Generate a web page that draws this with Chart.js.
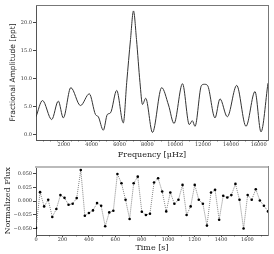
<!DOCTYPE html>
<html>
<head>
<meta charset="utf-8">
<script src="https://cdn.jsdelivr.net/npm/chart.js@4.4.1/dist/chart.umd.min.js"></script>
<style>
  body { margin: 0; background: #fff; }
  canvas { position: absolute; left: 0; }
  #top { top: 0; }
  #bottom { top: 160px; }
</style>
</head>
<body>
<canvas id="top" width="274" height="160"></canvas>
<canvas id="bottom" width="274" height="94"></canvas>
<script>
// periodogram (uHz, ppt)
var freq = [0, 467, 1128, 1602, 1961, 2500, 3197, 3829, 4274, 4476, 4835, 5122, 5352, 5797,
  6272, 6516, 6789, 7004, 7220, 7471, 7651, 7881, 8369, 9030, 9519, 9914, 10525, 11013,
  11229, 11423, 11889, 12105, 12321, 12859, 13218, 13743, 14418, 15086, 15733, 16164, 16667];
var amp = [3.2, 6.1, 2.7, 6.0, 3.0, 8.4, 5.2, 7.3, 3.6, 3.2, 0.8, 3.6, 3.9, 7.9,
  2.1, 9.3, 17.0, 22.1, 17.0, 9.3, 5.4, 6.5, 0.4, 8.4, 5.3, 2.0, 9.1, 1.8,
  2.5, 1.5, 8.8, 9.0, 8.8, 3.0, 6.4, 3.2, 8.8, 1.5, 7.7, 0.5, 9.2];

// light curve (s, normalized flux)
var time = [0, 30.8, 61.6, 92.4, 123.2, 154, 184.8, 215.6, 246.4, 277.2, 308, 338.8, 369.6,
  400.4, 431.2, 462, 492.8, 523.6, 554.4, 585.2, 616, 646.8, 677.6, 708.4, 739.2, 770,
  800.8, 831.6, 862.4, 893.2, 924, 954.8, 985.6, 1016.4, 1047.2, 1078, 1108.8, 1139.6,
  1170.4, 1201.2, 1232, 1262.8, 1293.6, 1324.4, 1355.2, 1386, 1416.8, 1447.6, 1478.4,
  1509.2, 1540, 1570.8, 1601.6, 1632.4, 1663.2, 1694, 1724.8, 1755.6];
var flux = [-0.049, 0.0164, -0.0097, 0.0024, -0.029, -0.0145, 0.011, 0.006, -0.0067, -0.0048,
  0.0055, 0.057, -0.0267, -0.0218, -0.017, -0.0036, -0.0085, -0.046, -0.0206, -0.0176,
  0.0497, 0.0327, 0.0024, -0.0327, 0.0327, 0.0448, -0.0194, -0.0255, -0.023, 0.034,
  0.0418, 0.0176, -0.0188, 0.0158, -0.0048, 0.0024, 0.0297, -0.0255, -0.0097, 0.0297,
  0.0024, -0.0048, -0.0448, 0.0158, 0.0206, -0.034, 0.0097, 0.0067, 0.011, 0.0315,
  0.0024, -0.050, 0.011, 0.0024, 0.0218, 0.0012, -0.0085, -0.0188];

var freqTicks = [2000, 4000, 6000, 8000, 10000, 12000, 14000, 16000];
var ampTicks = [0, 5, 10, 15, 20];
var timeTicks = [0, 200, 400, 600, 800, 1000, 1200, 1400, 1600];
var fluxTicks = [-0.05, -0.025, 0, 0.025, 0.05];

var freqMinor = [];
for (var f = 500; f < 16667; f += 500) if (f % 2000) freqMinor.push(f);
var timeMinor = [];
for (var t = 100; t < 1755; t += 200) timeMinor.push(t);

var tickFont = { family: 'DejaVu Serif', size: 5 };
var serif = { family: 'DejaVu Serif', size: 8 };

// short minor ticks under the x axis
var minorTicks = {
  id: 'minorTicks',
  afterDraw: function (chart, args, opts) {
    var s = chart.scales.x, ctx = chart.ctx;
    ctx.save();
    ctx.strokeStyle = '#444';
    ctx.lineWidth = 0.7;
    opts.values.forEach(function (v) {
      var px = Math.round(s.getPixelForValue(v)) + 0.5;
      ctx.beginPath();
      ctx.moveTo(px, s.top);
      ctx.lineTo(px, s.top + 1.5);
      ctx.stroke();
    });
    ctx.restore();
  }
};

function setTicks(list) {
  return function (s) { s.ticks = list.map(function (v) { return { value: v }; }); };
}

function frameAxis(pos, color, width) {
  return {
    type: 'linear', position: pos, display: true,
    grid: { display: false }, ticks: { display: false },
    border: { color: color, width: width },
    afterFit: function (s) { if (pos === 'top') s.height = 0; else s.width = 0; }
  };
}

function baseOptions(pad) {
  return {
    responsive: false, animation: false, devicePixelRatio: 1,
    layout: { padding: pad },
    plugins: { legend: { display: false }, tooltip: { enabled: false } }
  };
}

var topOpts = baseOptions({ top: 5, right: 6, left: 0, bottom: 0 });
topOpts.plugins.minorTicks = { values: freqMinor };
topOpts.scales = {
  x: {
    type: 'linear', min: 0, max: 16667,
    afterBuildTicks: setTicks(freqTicks),
    ticks: { font: tickFont, color: '#333', padding: 0, maxRotation: 0,
      callback: function (v) { return String(v); } },
    grid: { drawOnChartArea: false, tickLength: 2, tickColor: '#444' },
    border: { color: '#555', width: 1 },
    title: { display: true, text: 'Frequency [\u03bcHz]', font: serif, color: '#222', padding: 0 },
    afterFit: function (s) { s.height = 20; }
  },
  y: {
    type: 'linear', min: -0.95, max: 23.16,
    afterBuildTicks: setTicks(ampTicks),
    ticks: { font: tickFont, color: '#333', padding: 1,
      callback: function (v) { return v.toFixed(1); } },
    grid: { drawOnChartArea: false, tickLength: 3, tickColor: '#444' },
    border: { color: '#555', width: 1 },
    title: { display: true, text: 'Fractional Amplitude [ppt]',
      font: { family: 'DejaVu Sans', size: 7.5 }, color: '#222', padding: { top: 8.5, bottom: 0 } },
    afterFit: function (s) { s.width = 36; }
  },
  x2: frameAxis('top', '#777', 1),
  y2: frameAxis('right', '#777', 1)
};

new Chart(document.getElementById('top'), {
  type: 'line',
  data: {
    datasets: [{
      data: freq.map(function (f, i) { return { x: f, y: amp[i] }; }),
      borderColor: '#333', borderWidth: 1, pointRadius: 0,
      cubicInterpolationMode: 'monotone', fill: false
    }]
  },
  options: topOpts,
  plugins: [minorTicks]
});

var botOpts = baseOptions({ top: 6.7, right: 6, left: 0, bottom: 1.7 });
botOpts.plugins.minorTicks = { values: timeMinor };
botOpts.scales = {
  x: {
    type: 'linear', min: 0, max: 1755.6,
    afterBuildTicks: setTicks(timeTicks),
    ticks: { font: tickFont, color: '#333', padding: 0, maxRotation: 0,
      callback: function (v) { return String(v); } },
    grid: { drawOnChartArea: false, tickLength: 2, tickColor: '#444' },
    border: { color: '#555', width: 1 },
    title: { display: true, text: 'Time [s]', font: serif, color: '#222', padding: 0 },
    afterFit: function (s) { s.height = 19 - 1.7; }
  },
  y: {
    type: 'linear', min: -0.062, max: 0.063,
    afterBuildTicks: setTicks(fluxTicks),
    ticks: { font: tickFont, color: '#333', padding: 1,
      callback: function (v) { return (v < 0 ? '\u2212' : '') + Math.abs(v).toFixed(3); } },
    grid: { drawOnChartArea: false, tickLength: 3, tickColor: '#444' },
    border: { color: '#555', width: 1 },
    title: { display: true, text: 'Normalized Flux', font: serif, color: '#222',
      padding: { top: 2.7, bottom: 0 } },
    afterFit: function (s) { s.width = 36; }
  },
  x2: frameAxis('top', '#bbb', 2),
  y2: frameAxis('right', '#888', 1)
};

new Chart(document.getElementById('bottom'), {
  type: 'line',
  data: {
    datasets: [{
      data: time.map(function (t, i) { return { x: t, y: flux[i] }; }),
      borderColor: '#666', borderWidth: 0.8, borderDash: [1, 1], tension: 0,
      pointRadius: 1.3, pointBackgroundColor: '#000', pointBorderWidth: 0, fill: false
    }]
  },
  options: botOpts,
  plugins: [minorTicks]
});
</script>
</body>
</html>
